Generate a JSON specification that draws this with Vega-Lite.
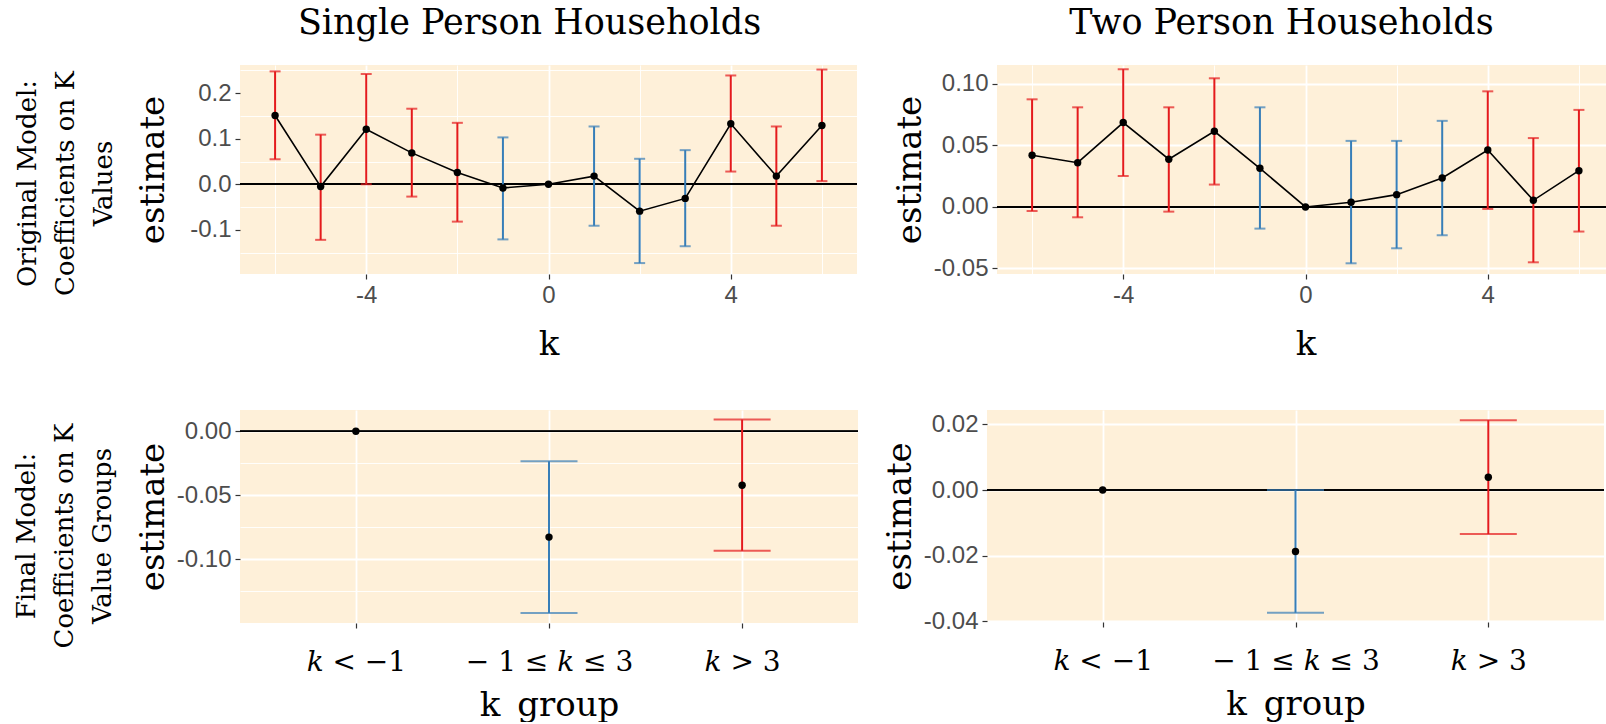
{
  "$schema": "https://vega.github.io/schema/vega-lite/v6.json",
  "padding": {"left": 14, "top": 6, "right": 0, "bottom": 0},
  "datasets": {
    "single": [
      {"k": -6, "estimate": 0.151, "lower": 0.055, "upper": 0.248, "k_group": "𝑘 < −1"},
      {"k": -5, "estimate": -0.005, "lower": -0.122, "upper": 0.109, "k_group": "𝑘 < −1"},
      {"k": -4, "estimate": 0.121, "lower": 0.0, "upper": 0.242, "k_group": "𝑘 < −1"},
      {"k": -3, "estimate": 0.069, "lower": -0.027, "upper": 0.166, "k_group": "𝑘 < −1"},
      {"k": -2, "estimate": 0.026, "lower": -0.082, "upper": 0.135, "k_group": "𝑘 < −1"},
      {"k": -1, "estimate": -0.008, "lower": -0.121, "upper": 0.103, "k_group": "− 1 ≤ 𝑘 ≤ 3"},
      {"k": 0, "estimate": 0.0, "lower": null, "upper": null, "k_group": "− 1 ≤ 𝑘 ≤ 3"},
      {"k": 1, "estimate": 0.018, "lower": -0.091, "upper": 0.127, "k_group": "− 1 ≤ 𝑘 ≤ 3"},
      {"k": 2, "estimate": -0.059, "lower": -0.173, "upper": 0.056, "k_group": "− 1 ≤ 𝑘 ≤ 3"},
      {"k": 3, "estimate": -0.031, "lower": -0.136, "upper": 0.075, "k_group": "− 1 ≤ 𝑘 ≤ 3"},
      {"k": 4, "estimate": 0.133, "lower": 0.028, "upper": 0.239, "k_group": "𝑘 > 3"},
      {"k": 5, "estimate": 0.018, "lower": -0.091, "upper": 0.127, "k_group": "𝑘 > 3"},
      {"k": 6, "estimate": 0.129, "lower": 0.007, "upper": 0.252, "k_group": "𝑘 > 3"}
    ],
    "two": [
      {"k": -6, "estimate": 0.042, "lower": -0.0033, "upper": 0.0875, "k_group": "𝑘 < −1"},
      {"k": -5, "estimate": 0.036, "lower": -0.0084, "upper": 0.081, "k_group": "𝑘 < −1"},
      {"k": -4, "estimate": 0.0686, "lower": 0.0252, "upper": 0.112, "k_group": "𝑘 < −1"},
      {"k": -3, "estimate": 0.0388, "lower": -0.0038, "upper": 0.081, "k_group": "𝑘 < −1"},
      {"k": -2, "estimate": 0.0615, "lower": 0.0182, "upper": 0.1046, "k_group": "𝑘 < −1"},
      {"k": -1, "estimate": 0.0314, "lower": -0.0176, "upper": 0.081, "k_group": "− 1 ≤ 𝑘 ≤ 3"},
      {"k": 0, "estimate": 0.0, "lower": null, "upper": null, "k_group": "− 1 ≤ 𝑘 ≤ 3"},
      {"k": 1, "estimate": 0.0038, "lower": -0.0458, "upper": 0.0537, "k_group": "− 1 ≤ 𝑘 ≤ 3"},
      {"k": 2, "estimate": 0.010, "lower": -0.0336, "upper": 0.0537, "k_group": "− 1 ≤ 𝑘 ≤ 3"},
      {"k": 3, "estimate": 0.0236, "lower": -0.023, "upper": 0.070, "k_group": "− 1 ≤ 𝑘 ≤ 3"},
      {"k": 4, "estimate": 0.0463, "lower": -0.0016, "upper": 0.094, "k_group": "𝑘 > 3"},
      {"k": 5, "estimate": 0.0054, "lower": -0.045, "upper": 0.056, "k_group": "𝑘 > 3"},
      {"k": 6, "estimate": 0.0295, "lower": -0.020, "upper": 0.0789, "k_group": "𝑘 > 3"}
    ],
    "single_g": [
      {"k_group": "𝑘 < −1", "estimate": 0.0, "lower": null, "upper": null},
      {"k_group": "− 1 ≤ 𝑘 ≤ 3", "estimate": -0.0828, "lower": -0.1422, "upper": -0.0234},
      {"k_group": "𝑘 > 3", "estimate": -0.0422, "lower": -0.0935, "upper": 0.0091}
    ],
    "two_g": [
      {"k_group": "𝑘 < −1", "estimate": 0.0, "lower": null, "upper": null},
      {"k_group": "− 1 ≤ 𝑘 ≤ 3", "estimate": -0.0187, "lower": -0.0374, "upper": 0.0},
      {"k_group": "𝑘 > 3", "estimate": 0.0039, "lower": -0.0134, "upper": 0.0213}
    ]
  },
  "columns": 1,
  "align": "none",
  "spacing": 49,
  "concat": [
    {
      "title": {"text": ["Original Model:", "Coefficients on K", "Values"], "orient": "left", "anchor": "middle", "fontSize": 26, "lineHeight": 38, "offset": 20},
      "spacing": 35,
      "hconcat": [
        {
          "width": 617, "height": 209,
          "title": {"text": "Single Person Households", "dx": -19, "offset": 24},
          "data": {"name": "single"},
          "resolve": {"axis": {"y": "independent"}},
          "layer": [
            {"mark": {"type": "rule", "color": "black", "strokeWidth": 1.6},
             "encoding": {"y": {"datum": 0, "type": "quantitative", "title": null,
               "axis": {"orient": "right", "values": [-0.15, -0.05, 0.05, 0.15, 0.25], "labels": false, "ticks": false, "domain": false, "title": null, "grid": true, "gridWidth": 0.9}}}},
            {"transform": [{"filter": "datum.lower != null"}], "mark": {"type": "errorbar", "ticks": true, "size": 11, "thickness": 2},
             "encoding": {"x": {"field": "k", "type": "quantitative", "title": "k"}, "y": {"field": "lower", "type": "quantitative", "title": "estimate", "axis": null}, "y2": {"field": "upper"},
               "color": {"field": "k_group", "type": "nominal", "scale": {"domain": ["𝑘 < −1", "− 1 ≤ 𝑘 ≤ 3", "𝑘 > 3"], "range": ["#E41A1C", "#377EB8", "#E41A1C"]}, "legend": null}}},
            {"mark": {"type": "line", "color": "black", "strokeWidth": 1.6}, "encoding": {"x": {"field": "k", "type": "quantitative", "title": "k"}, "y": {"field": "estimate", "type": "quantitative", "title": "estimate", "axis": null}}},
            {"mark": {"type": "circle", "color": "black", "size": 55, "opacity": 1},
             "encoding": {
               "x": {"field": "k", "type": "quantitative", "title": "k", "scale": {"domain": [-6.77, 6.77], "nice": false, "zero": false},
                 "axis": {"values": [-6, -4, -2, 0, 2, 4, 6], "format": "d", "titlePadding": 20, "labelOverlap": false, "labelExpr": "indexof([-4, 0, 4], datum.value) < 0 ? '' : replace(datum.label, '−', '-')",
                   "gridWidth": {"condition": {"test": "indexof([-4, 0, 4], datum.value) < 0", "value": 0.9}, "value": 1.8},
                   "tickOpacity": {"condition": {"test": "indexof([-4, 0, 4], datum.value) < 0", "value": 0}, "value": 1}}},
               "y": {"field": "estimate", "type": "quantitative", "title": "estimate", "scale": {"domain": [-0.197, 0.262], "nice": false, "zero": false},
                 "axis": {"values": [-0.1, 0, 0.1, 0.2], "format": ".1f", "labelOverlap": false, "titlePadding": 19, "labelExpr": "replace(datum.label, '−', '-')", "gridWidth": 1.8}}
             }}
          ]
        },
        {
          "width": 617, "height": 209,
          "title": {"text": "Two Person Households", "dx": -24, "offset": 24},
          "data": {"name": "two"},
          "layer": [
            {"mark": {"type": "rule", "color": "black", "strokeWidth": 1.6}, "encoding": {"y": {"datum": 0, "type": "quantitative", "title": "estimate"}}},
            {"transform": [{"filter": "datum.lower != null"}], "mark": {"type": "errorbar", "ticks": true, "size": 11, "thickness": 2},
             "encoding": {"x": {"field": "k", "type": "quantitative", "title": "k"}, "y": {"field": "lower", "type": "quantitative", "title": "estimate"}, "y2": {"field": "upper"},
               "color": {"field": "k_group", "type": "nominal", "scale": {"domain": ["𝑘 < −1", "− 1 ≤ 𝑘 ≤ 3", "𝑘 > 3"], "range": ["#E41A1C", "#377EB8", "#E41A1C"]}, "legend": null}}},
            {"mark": {"type": "line", "color": "black", "strokeWidth": 1.6}, "encoding": {"x": {"field": "k", "type": "quantitative", "title": "k"}, "y": {"field": "estimate", "type": "quantitative", "title": "estimate"}}},
            {"mark": {"type": "circle", "color": "black", "size": 55, "opacity": 1},
             "encoding": {
               "x": {"field": "k", "type": "quantitative", "title": "k", "scale": {"domain": [-6.77, 6.77], "nice": false, "zero": false},
                 "axis": {"values": [-6, -4, -2, 0, 2, 4, 6], "format": "d", "titlePadding": 20, "labelOverlap": false, "labelExpr": "indexof([-4, 0, 4], datum.value) < 0 ? '' : replace(datum.label, '−', '-')",
                   "gridWidth": {"condition": {"test": "indexof([-4, 0, 4], datum.value) < 0", "value": 0.9}, "value": 1.8},
                   "tickOpacity": {"condition": {"test": "indexof([-4, 0, 4], datum.value) < 0", "value": 0}, "value": 1}}},
               "y": {"field": "estimate", "type": "quantitative", "title": "estimate", "scale": {"domain": [-0.0545, 0.1154], "nice": false, "zero": false},
                 "axis": {"values": [-0.05, -0.025, 0, 0.025, 0.05, 0.075, 0.1], "format": ".2f", "labelOverlap": false, "labelExpr": "indexof([-0.05, 0, 0.05, 0.1], datum.value) < 0 ? '' : replace(datum.label, '−', '-')",
                   "labelFontSize": {"condition": {"test": "indexof([-0.05, 0, 0.05, 0.1], datum.value) < 0", "value": 1}, "value": 24},
                   "gridWidth": {"condition": {"test": "indexof([-0.05, 0, 0.05, 0.1], datum.value) < 0", "value": 0.9}, "value": 1.8},
                   "tickOpacity": {"condition": {"test": "indexof([-0.05, 0, 0.05, 0.1], datum.value) < 0", "value": 0}, "value": 1}}}
             }}
          ]
        }
      ]
    },
    {
      "title": {"text": ["Final Model:", "Coefficients on K", "Value Groups"], "orient": "left", "anchor": "middle", "fontSize": 26, "lineHeight": 38, "offset": 20, "dx": 30},
      "spacing": 24,
      "hconcat": [
        {
          "width": 618, "height": 213,
          "data": {"name": "single_g"},
          "layer": [
            {"mark": {"type": "rule", "color": "black", "strokeWidth": 1.6}, "encoding": {"y": {"datum": 0, "type": "quantitative", "title": "estimate"}}},
            {"transform": [{"filter": "datum.lower != null"}], "mark": {"type": "errorbar", "ticks": true, "size": 57, "thickness": 2},
             "encoding": {"x": {"field": "k_group", "type": "nominal", "title": "k_group"}, "y": {"field": "lower", "type": "quantitative", "title": "estimate"}, "y2": {"field": "upper"},
               "color": {"field": "k_group", "type": "nominal", "scale": {"domain": ["𝑘 < −1", "− 1 ≤ 𝑘 ≤ 3", "𝑘 > 3"], "range": ["#E41A1C", "#377EB8", "#E41A1C"]}, "legend": null}}},
            {"mark": {"type": "circle", "color": "black", "size": 55, "opacity": 1},
             "encoding": {
               "x": {"field": "k_group", "type": "nominal", "title": "k_group", "scale": {"type": "point", "padding": 0.6, "domain": ["𝑘 < −1", "− 1 ≤ 𝑘 ≤ 3", "𝑘 > 3"]},
                 "axis": {"labelAngle": 0, "labelAlign": "center", "labelBaseline": "top", "labelPadding": 20, "titlePadding": 12, "labelFont": "DejaVu Serif", "labelFontSize": 28, "labelColor": "#000000", "gridWidth": 1.8}},
               "y": {"field": "estimate", "type": "quantitative", "title": "estimate", "scale": {"domain": [-0.15, 0.0166], "nice": false, "zero": false},
                 "axis": {"values": [-0.125, -0.1, -0.075, -0.05, -0.025, 0], "format": ".2f", "labelOverlap": false, "labelExpr": "indexof([-0.1, -0.05, 0], datum.value) < 0 ? '' : replace(datum.label, '−', '-')",
                   "labelFontSize": {"condition": {"test": "indexof([-0.1, -0.05, 0], datum.value) < 0", "value": 1}, "value": 24},
                   "gridWidth": {"condition": {"test": "indexof([-0.1, -0.05, 0], datum.value) < 0", "value": 0.9}, "value": 1.8},
                   "tickOpacity": {"condition": {"test": "indexof([-0.1, -0.05, 0], datum.value) < 0", "value": 0}, "value": 1}}}
             }}
          ]
        },
        {
          "width": 617, "height": 212,
          "data": {"name": "two_g"},
          "layer": [
            {"mark": {"type": "rule", "color": "black", "strokeWidth": 1.6}, "encoding": {"y": {"datum": 0, "type": "quantitative", "title": "estimate"}}},
            {"transform": [{"filter": "datum.lower != null"}], "mark": {"type": "errorbar", "ticks": true, "size": 57, "thickness": 2},
             "encoding": {"x": {"field": "k_group", "type": "nominal", "title": "k_group"}, "y": {"field": "lower", "type": "quantitative", "title": "estimate"}, "y2": {"field": "upper"},
               "color": {"field": "k_group", "type": "nominal", "scale": {"domain": ["𝑘 < −1", "− 1 ≤ 𝑘 ≤ 3", "𝑘 > 3"], "range": ["#E41A1C", "#377EB8", "#E41A1C"]}, "legend": null}}},
            {"mark": {"type": "circle", "color": "black", "size": 55, "opacity": 1},
             "encoding": {
               "x": {"field": "k_group", "type": "nominal", "title": "k_group", "scale": {"type": "point", "padding": 0.6, "domain": ["𝑘 < −1", "− 1 ≤ 𝑘 ≤ 3", "𝑘 > 3"]},
                 "axis": {"labelAngle": 0, "labelAlign": "center", "labelBaseline": "top", "labelPadding": 20, "titlePadding": 12, "labelFont": "DejaVu Serif", "labelFontSize": 28, "labelColor": "#000000", "gridWidth": 1.8}},
               "y": {"field": "estimate", "type": "quantitative", "title": "estimate", "scale": {"domain": [-0.0402, 0.0244], "nice": false, "zero": false},
                 "axis": {"values": [-0.04, -0.03, -0.02, -0.01, 0, 0.01, 0.02], "format": ".2f", "labelOverlap": false, "labelExpr": "indexof([-0.04, -0.02, 0, 0.02], datum.value) < 0 ? '' : replace(datum.label, '−', '-')",
                   "labelFontSize": {"condition": {"test": "indexof([-0.04, -0.02, 0, 0.02], datum.value) < 0", "value": 1}, "value": 24},
                   "gridWidth": {"condition": {"test": "indexof([-0.04, -0.02, 0, 0.02], datum.value) < 0", "value": 0.9}, "value": 1.8},
                   "tickOpacity": {"condition": {"test": "indexof([-0.04, -0.02, 0, 0.02], datum.value) < 0", "value": 0}, "value": 1}}}
             }}
          ]
        }
      ]
    }
  ],
  "config": {
    "view": {"fill": "#FEF0D9", "stroke": null},
    "axis": {"domain": false, "grid": true, "gridColor": "#FFFFFF", "tickColor": "#333333", "tickSize": 5, "tickWidth": 1.2,
      "labelFont": "Liberation Sans", "labelFontSize": 24, "labelColor": "#4D4D4D", "labelPadding": 4, "labelOverlap": false, "labelFlush": false,
      "titleFont": "DejaVu Serif", "titleFontSize": 34, "titleFontWeight": "normal", "titleColor": "#000000", "titlePadding": 6},
    "title": {"font": "DejaVu Serif", "fontSize": 35, "fontWeight": "normal", "color": "#000000"}
  }
}
